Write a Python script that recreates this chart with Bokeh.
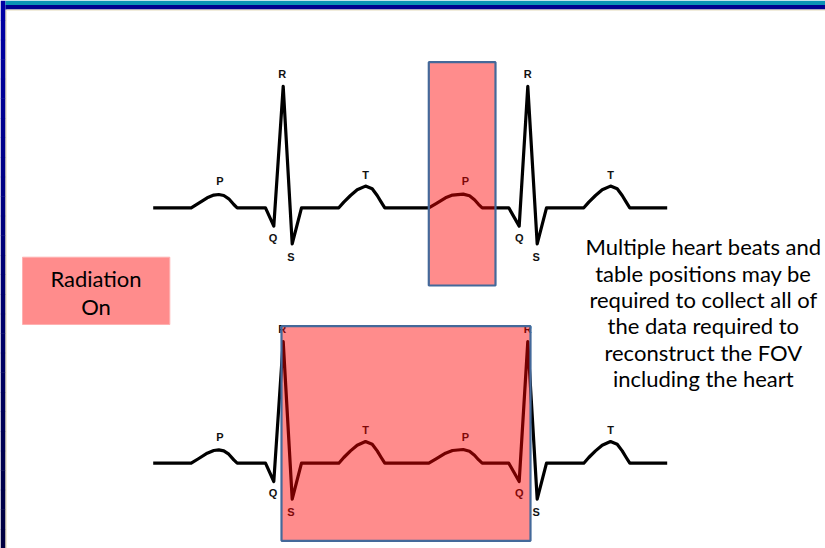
from bokeh.plotting import figure
from bokeh.models import Range1d, GlobalInlineStyleSheet
from bokeh.core.properties import value
from bokeh.embed import file_html
from bokeh.resources import INLINE

# ---------------- data ----------------
# ECG sweep (two beats): time position and amplitude above the baseline
ecg_x = [152.7, 190.7, 198.3, 206.7, 213.3, 218.3, 223.3, 228.3, 233.3, 236.7,
         265.0, 273.3, 282.7, 291.7, 301.0,
         338.3, 343.3, 350.0, 356.7, 365.0, 371.7, 376.7, 380.7, 384.3,
         428.3, 436.0, 445.0, 452.0, 462.7, 469.0, 474.0, 478.0, 481.7,
         508.3, 518.7, 527.3, 536.7, 546.0,
         583.3, 588.3, 595.0, 601.7, 610.0, 616.7, 621.7, 625.7, 629.3,
         666.7]
ecg_amp = [0, 0, 4.7, 10.0, 12.7, 13.3, 12.3, 9.0, 3.3, 0,
           0, -18.3, 121.5, -36.0, 0,
           0, 5.7, 12.3, 18.0, 21.7, 19.0, 12.3, 5.7, 0,
           0, 4.5, 10.0, 12.7, 13.7, 12.0, 8.0, 3.5, 0,
           0, -18.3, 121.5, -36.0, 0,
           0, 5.7, 12.3, 18.0, 21.7, 19.0, 12.3, 5.7, 0,
           0]
trace_baselines = [207.3, 462.7]

wave_labels = ["P", "R", "Q", "S", "T", "P", "R", "Q", "S", "T"]
wave_label_x = [219.3, 281.7, 272.5, 290.5, 365.0, 465.0, 527.3, 518.7, 535.7, 610.0]
wave_label_dy = [-26.6, -134.0, 30.0, 49.0, -33.3, -26.6, -134.0, 30.0, 49.0, -33.3]

# acquisition windows (radiation on)
window_left = [428.3, 281.0]
window_right = [495.0, 530.0]
window_top = [61.7, 325.7]
window_bottom = [285.0, 540.3]

radiation_lines = ["Radiation", "On"]
note_lines = ["Multiple heart beats and",
              "table positions may be",
              "required to collect all of",
              "the data required to",
              "reconstruct the FOV",
              "including the heart"]

# ---------------- figure ----------------
W, H = 825, 548
p = figure(width=W, height=H, x_range=Range1d(0, W), y_range=Range1d(H, 0),
           output_backend="svg", toolbar_location=None, min_border=0,
           x_axis_type=None, y_axis_type=None)
p.grid.visible = False
p.outline_line_color = None
p.background_fill_color = "white"
p.border_fill_color = "white"
p.stylesheets = [GlobalInlineStyleSheet(css="html, body { margin: 0 !important; padding: 0; overflow: hidden; }")]

# slide frame
n_strips = 28
lefts, rights, tops, bottoms, cols = [], [], [], [], []
for i in range(n_strips):
    t = i / (n_strips - 1)
    b = int(165 - t * 100)
    lefts.append(0); rights.append(5)
    tops.append(i * H / n_strips); bottoms.append((i + 1) * H / n_strips + 0.5)
    cols.append("#%02x%02x%02x" % (0, 0, b))
p.quad(left=lefts, right=rights, top=tops, bottom=bottoms, fill_color=cols, line_color=None)
p.quad(left=[5], right=[6], top=[9], bottom=[H], fill_color="#d9cfa8", line_color=None)
p.quad(left=[5], right=[W], top=[0], bottom=[4.5], fill_color="#0a93b5", line_color=None)
p.quad(left=[5], right=[W], top=[4.5], bottom=[9], fill_color="#00008f", line_color=None)
p.quad(left=[6], right=[W], top=[9], bottom=[10], fill_color="#e3d9b8", line_color=None)

# ECG traces + labels
for base in trace_baselines:
    p.line(ecg_x, [base - a for a in ecg_amp], line_color="black", line_width=3.2,
           line_join="round", line_cap="butt")
    p.text(x=wave_label_x, y=[base + d for d in wave_label_dy], text=wave_labels,
           text_font=value("Liberation Sans"), text_font_style="bold",
           text_font_size="11px", text_align="center", text_baseline="middle",
           text_color="#111111")

# radiation windows
p.quad(left=window_left, right=window_right, top=window_top, bottom=window_bottom,
       fill_color="red", fill_alpha=0.45, line_color="#44699a", line_width=2.2)

# "Radiation On" key
p.quad(left=[22], right=[169.3], top=[256.7], bottom=[324], fill_color="#ff8c8c",
       line_color="#ffb0b0", line_width=1)
p.text(x=[95.5, 95.5], y=[277.8, 305.8], text=radiation_lines,
       text_font=value("Lato"), text_font_size="22px", text_align="center",
       text_baseline="middle", text_color="black")

# explanatory note
p.text(x=[702.8] * len(note_lines), y=[246.2 + 26.4 * i for i in range(len(note_lines))],
       text=note_lines, text_font=value("Lato"), text_font_size="22px",
       text_align="center", text_baseline="middle", text_color="black")

open("out.html", "w").write(file_html(p, INLINE))
